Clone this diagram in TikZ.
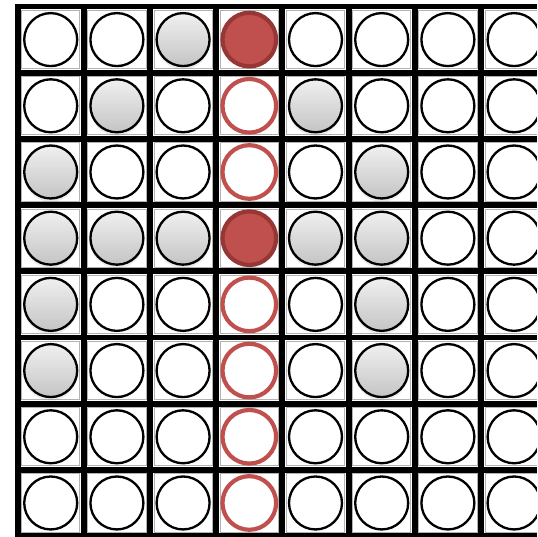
\documentclass[tikz,border=0pt]{standalone}
\usetikzlibrary{shadows}
\definecolor{ring_red}{RGB}{192,80,77}
\definecolor{dark_red}{RGB}{150,55,53}
\tikzset{
    grid_line/.style = {
        draw=black,
        line width=2.5pt,
        line cap=rect
    },
    cell_border/.style = {
        draw=black!30,
        line width=0.4pt
    },
    pt_e/.style = {
        circle,
        draw=black,
        line width=1pt,
        fill=white,
        inner sep=0pt,
        minimum size=0.8cm
    },
    pt_g/.style = {
        pt_e,
        top color=black!6,
        bottom color=black!23,
        drop shadow={opacity=0.15, shadow xshift=0pt, shadow yshift=-1.5pt}
    },
    pt_r/.style = {
        pt_e,
        draw=dark_red,
        fill=ring_red,
        line width=1.8pt,
        minimum size=0.81cm
    },
    pt_o/.style = {
        pt_e,
        draw=ring_red,
        line width=1.8pt,
        minimum size=0.81cm
    },
}

\begin{document}
\begin{tikzpicture}
    \clip (-0.266, 0.098) rectangle (7.846, -8.014);
    % thin frame in every cell
    \foreach \r in {1,...,8} {
        \foreach \c in {1,...,8} {
            \path[cell_border] (\c-0.94, -\r+0.94) rectangle (\c-0.06, -\r+0.06);
        }
    }
    % board lines
    \foreach \i in {0,...,8} {
        \path[grid_line] (\i, 0) -- (\i, -8);
        \path[grid_line] (0, -\i) -- (8, -\i);
    }
    % points, row by row
    \foreach \r/\row in {1/{e,e,g,r,e,e,e,e},
                         2/{e,g,e,o,g,e,e,e},
                         3/{g,e,e,o,e,g,e,e},
                         4/{g,g,g,r,g,g,e,e},
                         5/{g,e,e,o,e,g,e,e},
                         6/{g,e,e,o,e,g,e,e},
                         7/{e,e,e,o,e,e,e,e},
                         8/{e,e,e,o,e,e,e,e}} {
        \foreach \s [count=\c] in \row {
            \node[pt_\s] (p\r\c) at (\c-0.5, -\r+0.5) {};
        }
    }
\end{tikzpicture}
\end{document}
